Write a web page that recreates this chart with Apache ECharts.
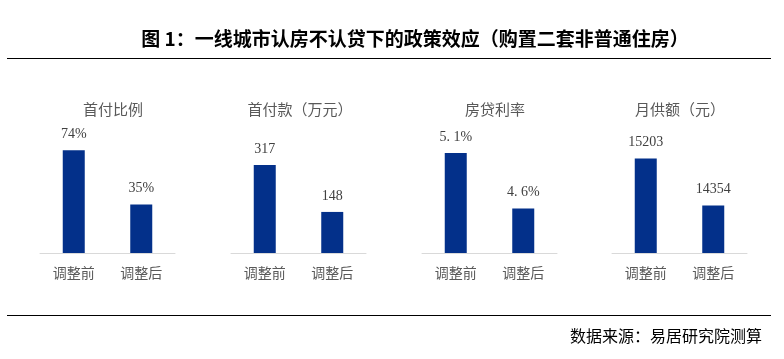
<!DOCTYPE html>
<html>
<head>
<meta charset="utf-8">
<script src="https://cdn.jsdelivr.net/npm/echarts@6/dist/echarts.min.js"></script>
<style>html,body{margin:0;padding:0;background:#fff}#c{width:784px;height:359px}</style>
</head>
<body>
<div id="c"></div>
<script>
var categories = ['调整前', '调整后'];
var panelTitles = ['首付比例', '首付款（万元）', '房贷利率', '月供额（元）'];
var downPaymentRatio = [74, 35];
var downPayment = [317, 148];
var mortgageRate = [5.1, 4.6];
var monthlyPayment = [15203, 14354];
var valueLabels = [['74%', '35%'], ['317', '148'], ['5. 1%', '4. 6%'], ['15203', '14354']];
var axisMin = [0, 0, 4.2, 13500];
var axisMax = [80, 400, 5.2, 15500];

var seriesData = [downPaymentRatio, downPayment, mortgageRate, monthlyPayment];
var gridLefts = [40, 231, 422, 612];
var gridWidth = 135;
var titleCenters = [108, 295, 490, 675];

var chart = echarts.init(document.getElementById('c'));
var grids = [], xAxes = [], yAxes = [], series = [], titles = [];
titles.push({
  text: '图 1：一线城市认房不认贷下的政策效应（购置二套非普通住房）',
  left: 410, top: 24, textAlign: 'center',
  textStyle: {fontFamily: 'Noto Sans CJK SC', fontWeight: 'bold', fontSize: 19, color: '#000'}
});
titles.push({
  text: '数据来源：易居研究院测算',
  right: 17, top: 323,
  textStyle: {fontFamily: 'Noto Sans CJK SC', fontWeight: 'normal', fontSize: 16, color: '#000'}
});
for (var i = 0; i < 4; i++) {
  titles.push({
    text: panelTitles[i], left: titleCenters[i], top: 97, textAlign: 'center',
    textStyle: {fontFamily: 'Noto Sans CJK SC', fontWeight: 'normal', fontSize: 15, color: '#595959'}
  });
  grids.push({left: gridLefts[i], width: gridWidth, top: 142, height: 111});
  xAxes.push({
    type: 'category', gridIndex: i, data: categories,
    axisLine: {lineStyle: {color: '#D9D9D9', width: 1}},
    axisTick: {show: false},
    axisLabel: {color: '#595959', fontSize: 14, fontFamily: 'Noto Sans CJK SC', margin: 13}
  });
  yAxes.push({
    type: 'value', gridIndex: i, min: axisMin[i], max: axisMax[i],
    show: false, splitLine: {show: false}
  });
  (function (idx) {
    series.push({
      type: 'bar', xAxisIndex: idx, yAxisIndex: idx, data: seriesData[idx],
      barWidth: 22, itemStyle: {color: '#03308A'},
      label: {
        show: true, position: 'top', distance: 9,
        fontFamily: 'Liberation Serif', fontSize: 14, color: '#404040',
        formatter: function (p) { return valueLabels[idx][p.dataIndex]; }
      }
    });
  })(i);
}
chart.setOption({
  animation: false,
  title: titles,
  grid: grids, xAxis: xAxes, yAxis: yAxes, series: series,
  graphic: [
    {type: 'line', shape: {x1: 7, y1: 58.5, x2: 771, y2: 58.5}, style: {stroke: '#000', lineWidth: 1}},
    {type: 'line', shape: {x1: 7, y1: 315.5, x2: 771, y2: 315.5}, style: {stroke: '#000', lineWidth: 1}}
  ]
});
</script>
</body>
</html>
